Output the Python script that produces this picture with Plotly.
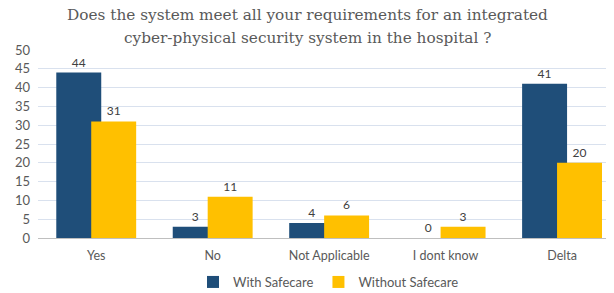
import plotly.graph_objects as go

categories = ["Yes", "No", "Not Applicable", "I dont know", "Delta"]
with_safecare = [44, 3, 4, 0, 41]
without_safecare = [31, 11, 6, 3, 20]
y_ticks = [0, 5, 10, 15, 20, 25, 30, 35, 40, 45, 50]
title_lines = ["Does the system meet all your requirements for an integrated",
               "cyber-physical security system in the hospital ?"]

x = list(range(len(categories)))
bw = 0.386

W, H = 606, 285  # page body adds an 8px margin

fig = go.Figure()
fig.add_trace(go.Bar(
    x=x, y=with_safecare, name="With Safecare",
    marker=dict(color="#1F4E79", line=dict(width=0)),
    width=bw, offset=-0.343,
    text=with_safecare, textposition="outside",
    textfont=dict(family="Lato", size=12, color="#404040"),
    cliponaxis=False,
))
fig.add_trace(go.Bar(
    x=x, y=without_safecare, name="Without Safecare",
    marker=dict(color="#FFC000", line=dict(width=0)),
    width=bw, offset=-0.043,
    text=without_safecare, textposition="outside",
    textfont=dict(family="Lato", size=12, color="#404040"),
    cliponaxis=False,
))

fig.update_layout(
    width=W, height=H,
    barmode="overlay",
    paper_bgcolor="white", plot_bgcolor="white",
    margin=dict(l=30, r=0, t=42, b=55, autoexpand=False),
    xaxis=dict(
        tickmode="array", tickvals=x, ticktext=categories,
        range=[-0.5, 4.446],
        showgrid=False, showline=True, linecolor="#BFBFBF", linewidth=1,
        ticks="", tickfont=dict(family="Lato", size=12.5, color="#595959"),
        zeroline=False, ticklabelstandoff=6, tickangle=0,
    ),
    yaxis=dict(
        range=[0, 50], tickmode="array", tickvals=y_ticks,
        showgrid=True, gridcolor="#D9E1EE", gridwidth=1,
        zeroline=False, showline=False, ticks="",
        tickfont=dict(family="Lato", size=13, color="#595959"),
        ticklabelstandoff=7,
    ),
    legend=dict(
        orientation="h", x=185 / W, xref="container", xanchor="left",
        y=26 / H, yref="container", yanchor="top",
        font=dict(family="Lato", size=13, color="#595959"),
        traceorder="normal",
    ),
    showlegend=True,
)

for i, (line, ypx) in enumerate(zip(title_lines, [7, 30])):
    fig.add_annotation(
        text=line, xref="paper", yref="paper",
        x=(299 - 30) / (W - 30), y=1 + (42 - ypx) / (H - 42 - 55),
        xanchor="center", yanchor="middle", showarrow=False,
        font=dict(family="DejaVu Serif", size=15.3, color="#595959"),
    )

fig.write_html("out.html")
